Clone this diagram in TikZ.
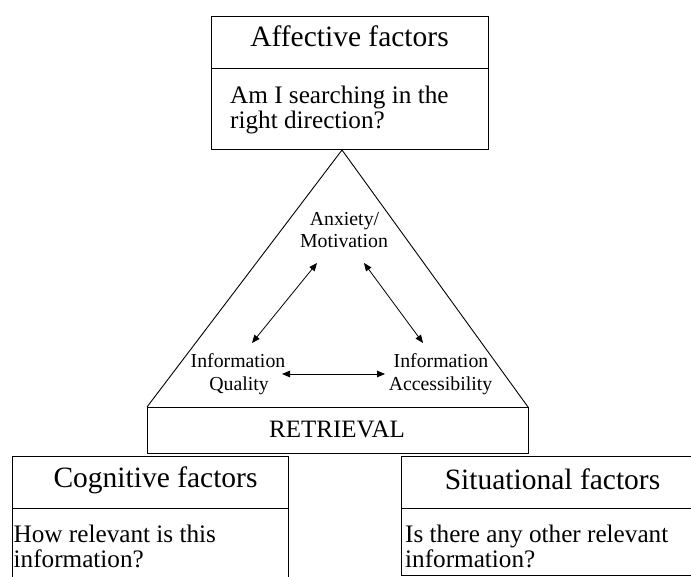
\documentclass[tikz,border=0pt]{standalone}
\usepackage{fontspec}
\setmainfont{Liberation Serif}
\usetikzlibrary{arrows.meta}
\begin{document}
\begin{tikzpicture}[x=1pt,y=-1pt,
  frame/.style={draw=black, line width=0.9pt},
  boxshape/.style={frame, inner sep=0pt, outer sep=0pt, anchor=north west},
  headtext/.style={font=\fontsize{29.5}{32}\selectfont, inner sep=0pt, anchor=base},
  asktext/.style={font=\fontsize{25.2}{27}\selectfont, inner sep=0pt, anchor=base west},
  smalltext/.style={font=\fontsize{19.8}{22}\selectfont, inner sep=0pt, anchor=base},
  link/.style={line width=0.8pt, {Triangle[length=8pt,width=6.5pt]}-{Triangle[length=8pt,width=6.5pt]}}
]
\useasboundingbox (0,0) rectangle (691,577);
\clip (0,0) rectangle (691,577);

% Affective factors box
\node[boxshape, minimum width=277, minimum height=52] (affhead) at (211,16) {};
\node[boxshape, minimum width=277, minimum height=81] (affbody) at (211,68) {};
\node[headtext] (afftitle) at (349.5,47) {Affective factors};
\node[asktext] (affq1) at (230,104) {Am I searching in the};
\node[asktext] (affq2) at (230,129) {right direction?};

% Retrieval triangle
\coordinate (apex) at (342,150);
\coordinate (baseL) at (147,407);
\coordinate (baseR) at (528,407);
\draw[frame] (baseL) -- (apex) -- (baseR);
\node[boxshape, minimum width=381, minimum height=46] (retr) at (147,407) {};
\node[font=\fontsize{25}{27}\selectfont, inner sep=0pt, anchor=base] (retrtext) at (337,437) {RETRIEVAL};

% Inner factors
\node[smalltext] (anx1) at (344.5,226) {Anxiety/};
\node[smalltext] (anx2) at (344,248) {Motivation};
\node[smalltext] (qual1) at (238,367) {Information};
\node[smalltext] (qual2) at (239,390) {Quality};
\node[smalltext] (acc1) at (441,367) {Information};
\node[smalltext] (acc2) at (440.5,390) {Accessibility};

\coordinate (anxL) at (317,263);
\coordinate (anxR) at (364,263);
\coordinate (qualT) at (252,343);
\coordinate (accT) at (423,343);
\coordinate (qualR) at (282,374);
\coordinate (accL) at (385,374);
\draw[link] (anxL) -- (qualT);
\draw[link] (anxR) -- (accT);
\draw[link] (qualR) -- (accL);

% Cognitive factors box
\node[boxshape, minimum width=276, minimum height=52] (coghead) at (12,456) {};
\node[boxshape, minimum width=276, minimum height=90] (cogbody) at (12,508) {};
\node[headtext] (cogtitle) at (155.5,487) {Cognitive factors};
\node[asktext] (cogq1) at (13.5,542) {How relevant is this};
\node[asktext] (cogq2) at (13.5,567) {information?};

% Situational factors box
\node[boxshape, minimum width=310, minimum height=52] (sithead) at (401,456) {};
\node[boxshape, minimum width=310, minimum height=67] (sitbody) at (401,508) {};
\node[headtext] (sittitle) at (552.5,489) {Situational factors};
\node[asktext] (sitq1) at (405,542) {Is there any other relevant};
\node[asktext] (sitq2) at (405,567) {information?};
\end{tikzpicture}
\end{document}
